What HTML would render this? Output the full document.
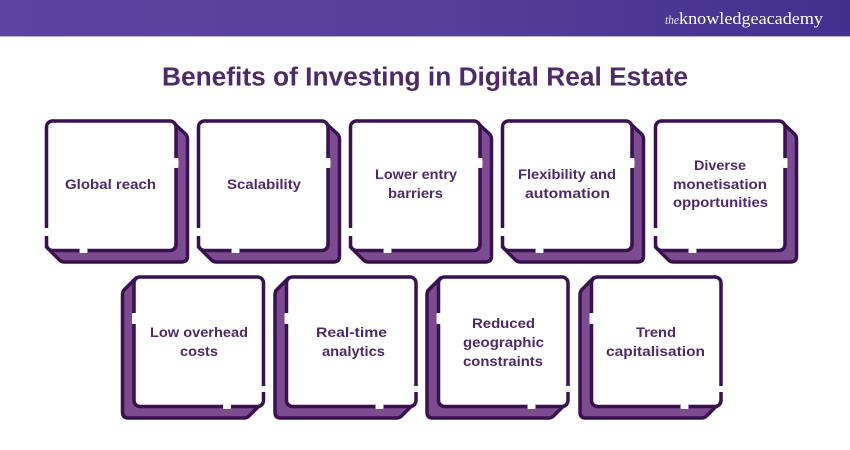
<!DOCTYPE html>
<html><head><meta charset="utf-8"><style>
html,body{margin:0;padding:0;background:#fff}
svg{display:block}
.c{font:bold 14px "Liberation Sans",sans-serif;fill:#4f2a68}
</style></head><body>
<svg width="850" height="450" viewBox="0 0 850 450" xmlns="http://www.w3.org/2000/svg">
<defs>
<linearGradient id="g" x1="0" x2="1" y1="0" y2="0"><stop offset="0" stop-color="#5e43a2"/><stop offset="0.5" stop-color="#55409a"/><stop offset="1" stop-color="#432f8e"/></linearGradient>
<g id="top">
<path d="M128 3 L141 15 Q143 17 143 20 V137 Q143 143 137 143 H20 Q17 143 15 141 L2 128 Z" fill="#7d4b8f" stroke="#3a1150" stroke-width="3.500" stroke-linejoin="round"/>
<rect x="2" y="2" width="129.500" height="129.500" rx="6" fill="#fff" stroke="#3a1150" stroke-width="3.500"/>
<rect x="129.500" y="39" width="4.500" height="10" rx="1" fill="#fff"/>
<rect x="-0.500" y="109" width="5" height="8" fill="#fff"/>
<rect x="35" y="129.500" width="8" height="4.500" rx="1" fill="#fff"/>
</g>
<g id="bot">
<path d="M16 3 L4 15 Q2.500 17 2.500 20 V137 Q2.500 143 8 143 H124 Q127 143 129 141 L142 128 Z" fill="#7d4b8f" stroke="#3a1150" stroke-width="3.500" stroke-linejoin="round"/>
<rect x="14" y="2" width="129.500" height="129.500" rx="6" fill="#fff" stroke="#3a1150" stroke-width="3.500"/>
<rect x="12" y="38" width="4.500" height="11" rx="1" fill="#fff"/>
<rect x="141" y="111" width="5" height="6" fill="#fff"/>
<rect x="103" y="129.500" width="8" height="4.500" rx="1" fill="#fff"/>
</g>
</defs>
<rect width="850" height="36.500" fill="url(#g)"/>
<rect y="36" width="850" height="1" fill="#b9b0d6"/>
<text x="665" y="24" font-family="'Liberation Serif',serif" font-style="italic" font-size="13" fill="#e6e0f2" textLength="14" lengthAdjust="spacingAndGlyphs">the</text>
<text x="679" y="24" font-family="'Liberation Serif',serif" font-size="17" fill="#fff" textLength="144" lengthAdjust="spacingAndGlyphs">knowledgeacademy</text>
<text x="162" y="85.500" font-family="'Liberation Sans',sans-serif" font-weight="bold" font-size="25.500" fill="#4f2a68" textLength="526" lengthAdjust="spacingAndGlyphs">Benefits of Investing in Digital Real Estate</text>
<use href="#top" x="44.500" y="119"/>
<use href="#top" x="196.500" y="119"/>
<use href="#top" x="348.500" y="119"/>
<use href="#top" x="500.500" y="119"/>
<use href="#top" x="653.500" y="119"/>
<use href="#bot" x="120" y="275"/>
<use href="#bot" x="272.500" y="275"/>
<use href="#bot" x="424.500" y="275"/>
<use href="#bot" x="577.500" y="275"/>
<g>
<text class="c" x="65" y="189" textLength="91" lengthAdjust="spacingAndGlyphs">Global reach</text>
<text class="c" x="227" y="189" textLength="74" lengthAdjust="spacingAndGlyphs">Scalability</text>
<text class="c" x="375" y="179" textLength="82" lengthAdjust="spacingAndGlyphs">Lower entry</text>
<text class="c" x="388" y="198" textLength="55" lengthAdjust="spacingAndGlyphs">barriers</text>
<text class="c" x="518" y="179" textLength="98" lengthAdjust="spacingAndGlyphs">Flexibility and</text>
<text class="c" x="525" y="198" textLength="85" lengthAdjust="spacingAndGlyphs">automation</text>
<text class="c" x="694" y="170" textLength="52" lengthAdjust="spacingAndGlyphs">Diverse</text>
<text class="c" x="673" y="189" textLength="94" lengthAdjust="spacingAndGlyphs">monetisation</text>
<text class="c" x="673" y="207" textLength="95" lengthAdjust="spacingAndGlyphs">opportunities</text>
<text class="c" x="150" y="337" textLength="98" lengthAdjust="spacingAndGlyphs">Low overhead</text>
<text class="c" x="180" y="356" textLength="38" lengthAdjust="spacingAndGlyphs">costs</text>
<text class="c" x="316" y="337" textLength="71" lengthAdjust="spacingAndGlyphs">Real-time</text>
<text class="c" x="322" y="356" textLength="63" lengthAdjust="spacingAndGlyphs">analytics</text>
<text class="c" x="472" y="328" textLength="63" lengthAdjust="spacingAndGlyphs">Reduced</text>
<text class="c" x="463" y="347" textLength="81" lengthAdjust="spacingAndGlyphs">geographic</text>
<text class="c" x="463" y="366" textLength="80" lengthAdjust="spacingAndGlyphs">constraints</text>
<text class="c" x="636" y="337" textLength="40" lengthAdjust="spacingAndGlyphs">Trend</text>
<text class="c" x="606" y="356" textLength="99" lengthAdjust="spacingAndGlyphs">capitalisation</text>
</g>
</svg>
</body></html>
